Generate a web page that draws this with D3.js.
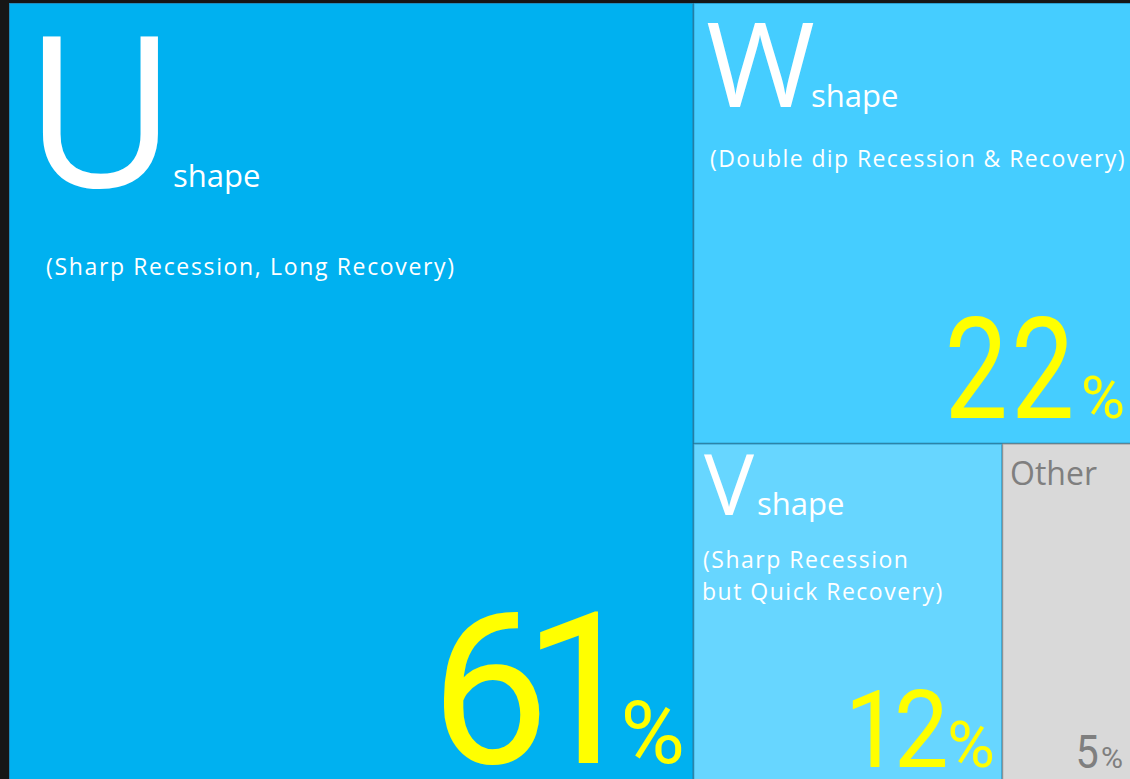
<!DOCTYPE html>
<html>
<head>
<meta charset="utf-8">
<script src="https://cdn.jsdelivr.net/npm/d3@7"></script>
<style>
  html, body { margin: 0; padding: 0; background: #161616; overflow: hidden; }
  svg { display: block; }
</style>
</head>
<body>
<svg id="chart" width="1130" height="779"></svg>
<script>
// Recovery-shape survey results
const letters    = ["U", "W", "V", "Other"];
const shapeWords = ["shape", "shape", "shape", ""];
const subtitles  = [
  ["(Sharp Recession, Long Recovery)"],
  ["(Double dip Recession & Recovery)"],
  ["(Sharp Recession", "but Quick Recovery)"],
  []
];
const shares     = [61, 22, 12, 5];

// Cell fills and text treatment
const fills      = ["#00b1f0", "#45cdff", "#67d6ff", "#d9d9d9"];
const edgeColors = ["#1d8cbd", "#2d9fcf", "#3aa9d6", "#a9a9a9"];
const TEXT_FONT  = '"Open Sans", "Noto Sans", sans-serif';
const NUM_FONT   = 'Roboto, "Open Sans", sans-serif';

const style = [
  { letterSize: 210, letterX: 33, base: 184, wordSize: 31, wordX: 165,
    subSize: 23, subX: 37, subBase: 272, lineH: 32, subSpacing: 1.65,
    numSize: 212, numSpacing: -27, numScale: 1.0, signSize: 88, signPad: 12, numGap: 26, numBase: 21,
    textColor: "#ffffff", pctColor: "#ffff00" },
  { letterSize: 118, letterX: 13.6, base: 104, wordSize: 31, wordX: 118.6,
    subSize: 23, subX: 16.6, subBase: 164, lineH: 32, subSpacing: 1.4,
    numSize: 141, numSpacing: 4, numScale: 0.8, signSize: 60, signPad: 8, numGap: 13, numBase: 25.6,
    textColor: "#ffffff", pctColor: "#ffff00" },
  { letterSize: 84, letterX: 10.6, base: 71.4, wordSize: 31, wordX: 64.6,
    subSize: 23, subX: 9.6, subBase: 124.4, lineH: 32, subSpacing: 1.5,
    numSize: 108, numSpacing: -6, numScale: 0.9, signSize: 65, signPad: 10, numGap: 5, numBase: 17,
    textColor: "#ffffff", pctColor: "#ffff00" },
  { letterSize: 32, letterX: 8.7, base: 41.4, wordSize: 0, wordX: 0,
    subSize: 0, subX: 0, subBase: 0, lineH: 0, subSpacing: 0,
    numSize: 46, numSpacing: 0, numScale: 0.9, signSize: 30, signPad: 9, numGap: 4, numBase: 16,
    textColor: "#7f7f7f", pctColor: "#7f7f7f" }
];

// Ink extents of a string, used to place glyph edges precisely
const ctx = document.createElement("canvas").getContext("2d");
function ink(str, size, family, weight, spacing) {
  ctx.font = `${weight} ${size}px ${family}`;
  if ("letterSpacing" in ctx) ctx.letterSpacing = (spacing || 0) + "px";
  const m = ctx.measureText(str);
  return { left: -m.actualBoundingBoxLeft, right: m.actualBoundingBoxRight };
}

const svg = d3.select("#chart");
const origin = [9, 3];
const extent = [1122, 781];

const root = d3.hierarchy({
  children: letters.map((l, i) => ({ index: i, value: shares[i] }))
}).sum(d => d.value || 0);

d3.treemap()
  .tile(d3.treemapBinary)
  .size(extent)(root);

const g = svg.append("g").attr("transform", `translate(${origin[0]},${origin[1]})`);

const cells = g.selectAll("g.cell")
  .data(root.leaves())
  .join("g")
  .attr("class", "cell")
  .attr("transform", d => `translate(${d.x0},${d.y0})`);

cells.append("rect")
  .attr("x", 0.5).attr("y", 0.5)
  .attr("width", d => d.x1 - d.x0 - 1)
  .attr("height", d => d.y1 - d.y0 - 1)
  .attr("fill", d => fills[d.data.index])
  .attr("stroke", d => edgeColors[d.data.index])
  .attr("stroke-width", 1);

function addText(sel, str, x, y, size, family, weight, color, spacing, scaleX) {
  const k = scaleX || 1;
  return sel.append("text")
    .attr("transform", `translate(${x},${y}) scale(${k},1)`)
    .attr("font-family", family)
    .attr("font-size", size)
    .attr("font-weight", weight)
    .attr("letter-spacing", spacing || 0)
    .attr("fill", color)
    .text(str);
}

document.fonts.ready.then(() => {
  cells.each(function(d) {
    const i = d.data.index;
    const s = style[i];
    const cell = d3.select(this);
    const w = d.x1 - d.x0, h = d.y1 - d.y0;

    // Big shape letter (or plain category name), ink-aligned on the left
    const lInk = ink(letters[i], s.letterSize, TEXT_FONT, 400, 0);
    addText(cell, letters[i], s.letterX - lInk.left, s.base, s.letterSize, TEXT_FONT, 400, s.textColor);

    if (shapeWords[i]) {
      const wInk = ink(shapeWords[i], s.wordSize, TEXT_FONT, 400, 0);
      addText(cell, shapeWords[i], s.wordX - wInk.left, s.base, s.wordSize, TEXT_FONT, 400, s.textColor);
    }

    subtitles[i].forEach((line, k) => {
      const sInk = ink(line, s.subSize, TEXT_FONT, 400, s.subSpacing);
      addText(cell, line, s.subX - sInk.left, s.subBase + k * s.lineH, s.subSize, TEXT_FONT, 400, s.textColor, s.subSpacing);
    });

    // Share value and percent sign, ink-aligned to the lower right corner
    const sign = "%";
    const signInk = ink(sign, s.signSize, NUM_FONT, 400, 0);
    const signX = w - s.signPad - signInk.right;
    addText(cell, sign, signX, h - s.numBase, s.signSize, NUM_FONT, 400, s.pctColor);

    const numStr = String(shares[i]);
    const nInk = ink(numStr, s.numSize, NUM_FONT, 400, s.numSpacing);
    const numRight = signX + signInk.left - s.numGap;
    addText(cell, numStr, numRight - nInk.right * s.numScale, h - s.numBase,
      s.numSize, NUM_FONT, 400, s.pctColor, s.numSpacing, s.numScale);
  });
});
</script>
</body>
</html>
